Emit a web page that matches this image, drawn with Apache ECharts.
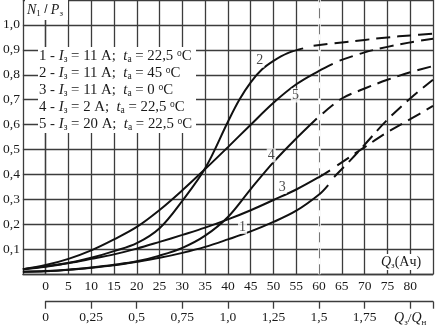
<!DOCTYPE html>
<html lang="ru">
<head>
<meta charset="UTF-8">
<script src="https://cdn.jsdelivr.net/npm/echarts@6/dist/echarts.min.js"></script>
<style>
  html, body { margin: 0; padding: 0; background: #fff; }
  #chart { width: 436px; height: 331px; }
</style>
</head>
<body>
<div id="chart"></div>
<script>
// кривые N1/P3 от Q3 (Ач); сплошная часть + пунктирное продолжение
var curve1 = [[-5,0.01],[0,0.013],[5,0.018],[10,0.026],[15,0.036],[20,0.05],[25,0.066],[30,0.086],[35,0.11],[40,0.14],[45,0.172],[50,0.21],[55,0.255],[60,0.32],[62,0.358]];
var curve1Dash = [[63.3,0.39],[67,0.46],[70,0.52],[75,0.62],[80,0.705],[85,0.78]];
var curve2 = [[-5,0.02],[0,0.03],[5,0.045],[10,0.066],[15,0.093],[20,0.125],[25,0.185],[30,0.295],[35,0.425],[40,0.612],[42.5,0.7],[45,0.77],[47.5,0.822],[50,0.856],[53,0.886],[56.5,0.906]];
var curve2Dash = [[58.8,0.917],[65,0.93],[70,0.94],[75,0.95],[80,0.958],[85,0.965]];
var curve3 = [[-5,0.02],[0,0.032],[5,0.045],[10,0.062],[15,0.08],[20,0.103],[25,0.13],[30,0.158],[35,0.187],[40,0.22],[45,0.257],[50,0.298],[55,0.34],[60,0.39],[62.4,0.417]];
var curve3Dash = [[64,0.437],[70,0.51],[75,0.57],[80,0.622],[85,0.675]];
var curve4 = [[-5,0.01],[0,0.012],[5,0.018],[10,0.027],[15,0.038],[20,0.052],[25,0.075],[30,0.106],[35,0.155],[40,0.23],[45,0.342],[50,0.45],[55,0.545],[59.5,0.625]];
var curve4Dash = [[60.8,0.645],[65,0.705],[70,0.745],[75,0.78],[80,0.81],[85,0.835]];
var curve5 = [[-5,0.02],[0,0.037],[5,0.062],[10,0.096],[15,0.14],[20,0.19],[25,0.258],[30,0.337],[35,0.422],[40,0.51],[45,0.6],[50,0.688],[55,0.762],[60,0.816],[63,0.844]];
var curve5Dash = [[64.5,0.857],[70,0.89],[75,0.912],[80,0.93],[85,0.945]];

// номера кривых [Q3, N1/P3, текст]
var curveNumbers = [[47,0.857,'2'],[54.8,0.717,'5'],[49.5,0.477,'4'],[51.9,0.35,'3'],[43.2,0.19,'1']];

// подписи нижней шкалы Q3/Qн (через каждые 10 Ач)
var ratioLabels = ['0','0,25','0,5','0,75','1,0','1,25','1,5','1,75'];

var legendLines = [
    '1 - {i|I}{s|з} = 11 A;  {i|t}{s|а} = 22,5 {o|o}C',
    '2 - {i|I}{s|з} = 11 A;  {i|t}{s|а} = 45 {o|o}C',
    '3 - {i|I}{s|з} = 11 A;  {i|t}{s|а} = 0 {o|o}C',
    '4 - {i|I}{s|з} = 2 A;  {i|t}{s|а} = 22,5 {o|o}C',
    '5 - {i|I}{s|з} = 20 A;  {i|t}{s|а} = 22,5 {o|o}C'
];

var FONT = "'Liberation Serif', 'DejaVu Serif', serif";
var TXT = '#1a1a1a';
var GRIDC = '#3c3c3c';

var rich = {
    n: { fontFamily: FONT, fontSize: 14, color: TXT, lineHeight: 16 },
    i: { fontFamily: FONT, fontSize: 14, fontStyle: 'italic', color: TXT, lineHeight: 16 },
    s: { fontFamily: FONT, fontSize: 9, color: TXT, verticalAlign: 'bottom', lineHeight: 9 },
    o: { fontFamily: FONT, fontSize: 9, color: TXT, verticalAlign: 'top', lineHeight: 9 }
};
var richBig = {
    n: { fontFamily: FONT, fontSize: 14.8, color: TXT, lineHeight: 16 },
    i: { fontFamily: FONT, fontSize: 14.8, fontStyle: 'italic', color: TXT, lineHeight: 16 },
    s: { fontFamily: FONT, fontSize: 9.5, color: TXT, verticalAlign: 'bottom', lineHeight: 9 },
    o: { fontFamily: FONT, fontSize: 9.5, color: TXT, verticalAlign: 'top', lineHeight: 9 }
};

function solid(data) {
    return {
        type: 'line', xAxisIndex: 0, yAxisIndex: 0, data: data,
        smooth: 0.35, symbol: 'none', silent: true,
        lineStyle: { color: '#111', width: 2 }, z: 5
    };
}
function dashed(data) {
    return {
        type: 'line', xAxisIndex: 0, yAxisIndex: 0, data: data,
        smooth: 0.35, symbol: 'none', silent: true,
        lineStyle: { color: '#111', width: 2, type: [14, 7] }, z: 5
    };
}

var graphics = [
    // белая подложка под легендой
    { type: 'rect', left: 38, top: 47, shape: { width: 158, height: 86 }, style: { fill: '#fff' }, z: 50 },
    { type: 'rect', left: 25, top: 0, shape: { width: 43, height: 20 }, style: { fill: '#fff' }, z: 50 },
    { type: 'text', left: 27, top: 3, z: 51,
      style: { text: '{i|N}{s|1} / {i|P}{s|з}', rich: rich, fill: TXT } },
    { type: 'text', left: 380, top: 254, z: 51,
      style: { text: '{i|Q}{s|з}{n|(Ач)}', rich: rich, fill: TXT, backgroundColor: '#fff', padding: [0, 1] } }
];
for (var k = 0; k < legendLines.length; k++) {
    graphics.push({
        type: 'text', left: 39, top: 48 + k * 17.1, z: 51,
        style: { text: '{n|' + legendLines[k].replace(/\{(i|s|o)\|([^}]*)\}/g, '}{$1|$2}{n|') + '}', rich: richBig, fill: TXT }
    });
}

var chart = echarts.init(document.getElementById('chart'));
chart.setOption({
    animation: false,
    backgroundColor: '#fff',
    grid: [
        { left: 22.5, top: -0.7, width: 414, height: 275 },
        { left: 45.5, top: 298, width: 391, height: 3.7 }
    ],
    xAxis: [
        {
            type: 'value', gridIndex: 0, min: -5, max: 85, interval: 5,
            axisLine: { show: true, onZero: false, lineStyle: { color: GRIDC, width: 1.3 } },
            axisTick: { show: false },
            splitLine: { show: true, lineStyle: { color: GRIDC, width: 1.3 } },
            axisLabel: {
                margin: 5, fontFamily: FONT, fontSize: 13.5, color: TXT,
                formatter: function (v) { return (v < 0 || v > 80) ? '' : String(v); }
            }
        },
        {
            type: 'value', gridIndex: 1, position: 'top', min: 0, max: 85, interval: 10,
            axisLine: { show: false },
            axisTick: { show: true, inside: true, length: 7, lineStyle: { color: GRIDC, width: 1.3 } },
            axisLabel: { show: false }, splitLine: { show: false }
        },
        {
            type: 'value', gridIndex: 1, position: 'bottom', min: 0, max: 85, interval: 10,
            axisLine: { show: true, lineStyle: { color: GRIDC, width: 1.3 } },
            axisTick: { show: false }, splitLine: { show: false },
            axisLabel: {
                margin: 9, fontFamily: FONT, fontSize: 13.5, color: TXT, rich: rich,
                formatter: function (v) {
                    if (v === 80) return '{i|Q}{s|з}/{i|Q}{s|н}';
                    var idx = Math.round(v / 10);
                    return ratioLabels[idx] !== undefined ? ratioLabels[idx] : '';
                }
            }
        }
    ],
    yAxis: [
        {
            type: 'value', gridIndex: 0, min: 0, max: 1.1, interval: 0.1,
            axisLine: { show: true, lineStyle: { color: GRIDC, width: 1.3 } },
            axisTick: { show: false },
            splitLine: { show: true, lineStyle: { color: GRIDC, width: 1.3 } },
            axisLabel: {
                margin: 3, fontFamily: FONT, fontSize: 13.5, color: TXT,
                formatter: function (v) { return (v < 0.05 || v > 1.05) ? '' : v.toFixed(1).replace('.', ','); }
            }
        },
        { type: 'value', gridIndex: 1, show: false, min: 0, max: 1 }
    ],
    graphic: graphics,
    series: [
        {
            type: 'line', xAxisIndex: 0, yAxisIndex: 0, data: [], silent: true,
            markLine: {
                symbol: 'none', silent: true, label: { show: false },
                data: [
                    { xAxis: 60, lineStyle: { color: '#fff', width: 2.5, type: 'solid' } },
                    { xAxis: 60, lineStyle: { color: '#777', width: 1, type: [10, 6] } }
                ]
            }
        },
        solid(curve1), dashed(curve1Dash),
        solid(curve2), dashed(curve2Dash),
        solid(curve3), dashed(curve3Dash),
        solid(curve4), dashed(curve4Dash),
        solid(curve5), dashed(curve5Dash),
        {
            type: 'scatter', xAxisIndex: 0, yAxisIndex: 0, symbolSize: 0, silent: true, z: 10,
            data: curveNumbers,
            label: {
                show: true, position: 'inside', fontFamily: FONT, fontSize: 14, color: TXT,
                backgroundColor: '#fff', padding: [0, 1],
                formatter: function (p) { return p.data[2]; }
            }
        }
    ]
});
</script>
</body>
</html>
